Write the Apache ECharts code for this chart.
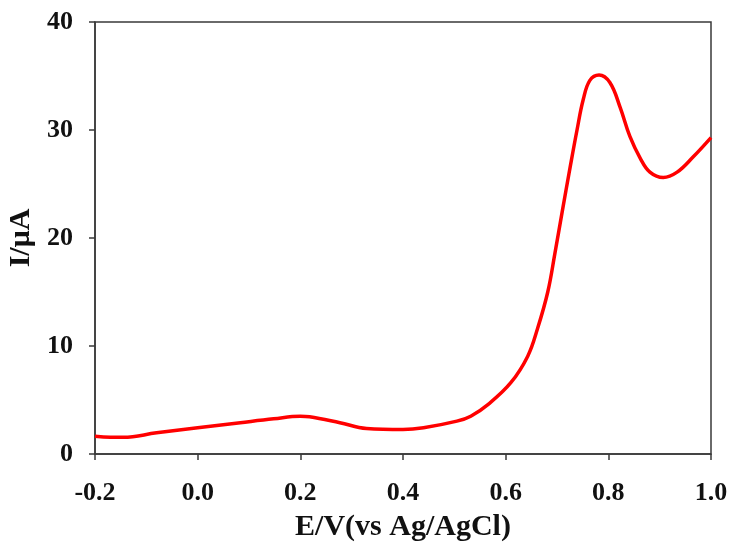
<!DOCTYPE html>
<html>
<head>
<meta charset="utf-8">
<script src="https://cdn.jsdelivr.net/npm/echarts@6/dist/echarts.min.js"></script>
<style>
  html, body { margin: 0; padding: 0; background: #fff; }
  #chart { width: 730px; height: 545px; }
</style>
</head>
<body>
<div id="chart"></div>
<script>
// potential (V vs Ag/AgCl) and current (uA)
const potential = [-0.2, -0.17, -0.145, -0.08, 0.0, 0.083, 0.148, 0.2, 0.218, 0.277, 0.329, 0.4, 0.44, 0.505, 0.532, 0.566, 0.61, 0.643, 0.662, 0.682, 0.696, 0.71, 0.725, 0.739, 0.751, 0.764, 0.782, 0.803, 0.823, 0.842, 0.862, 0.881, 0.907, 0.934, 0.965, 1.0];
const current = [1.65, 1.55, 1.55, 1.96, 2.43, 2.9, 3.26, 3.5, 3.45, 2.9, 2.36, 2.27, 2.43, 3.04, 3.5, 4.6, 6.6, 9.06, 11.6, 15.0, 18.6, 22.4, 26.4, 30.0, 32.8, 34.6, 35.1, 34.4, 32.1, 29.4, 27.4, 26.1, 25.6, 26.1, 27.5, 29.3];
const xTicks = [-0.2, 0.0, 0.2, 0.4, 0.6, 0.8, 1.0];
const yTicks = [0, 10, 20, 30, 40];

const chart = echarts.init(document.getElementById('chart'));

const font = 'Liberation Serif';
const axisColor = '#3a3a3a';
const textColor = '#111';

const option = {
  animation: false,
  grid: {
    left: 95,
    top: 22,
    right: 19,
    bottom: 91,
    outerBoundsMode: 'none',
    show: true,
    borderColor: axisColor,
    borderWidth: 1.5
  },
  xAxis: {
    type: 'value',
    min: -0.2,
    max: 1.0,
    interval: 0.2,
    name: 'E/V(vs Ag/AgCl)',
    nameLocation: 'middle',
    nameGap: 58,
    nameTextStyle: { fontFamily: font, fontWeight: 'bold', fontSize: 30, color: textColor },
    axisLine: { show: true, onZero: false, lineStyle: { color: axisColor, width: 1.5 } },
    axisTick: { show: true, inside: false, length: 6, lineStyle: { color: axisColor, width: 1.5 } },
    splitLine: { show: false },
    axisLabel: {
      margin: 26,
      fontFamily: font,
      fontWeight: 'bold',
      fontSize: 26,
      color: textColor,
      formatter: v => {
        const t = xTicks.find(k => Math.abs(k - v) < 1e-6);
        return t === undefined ? '' : t.toFixed(1);
      }
    }
  },
  yAxis: {
    type: 'value',
    min: 0,
    max: 40,
    interval: 10,
    name: 'I/μA',
    nameLocation: 'middle',
    nameGap: 57,
    nameRotate: 90,
    nameTextStyle: { fontFamily: font, fontWeight: 'bold', fontSize: 30, color: textColor },
    axisLine: { show: true, onZero: false, lineStyle: { color: axisColor, width: 1.5 } },
    axisTick: { show: true, inside: false, length: 6, lineStyle: { color: axisColor, width: 1.5 } },
    splitLine: { show: false },
    axisLabel: {
      margin: 22,
      fontFamily: font,
      fontWeight: 'bold',
      fontSize: 26,
      color: textColor,
      formatter: v => (yTicks.includes(v) ? String(v) : '')
    }
  },
  series: [{
    type: 'line',
    smooth: 0.4,
    symbol: 'none',
    data: potential.map((x, i) => [x, current[i]]),
    lineStyle: { color: '#ff0000', width: 3.5 }
  }]
};

chart.setOption(option);
</script>
</body>
</html>
